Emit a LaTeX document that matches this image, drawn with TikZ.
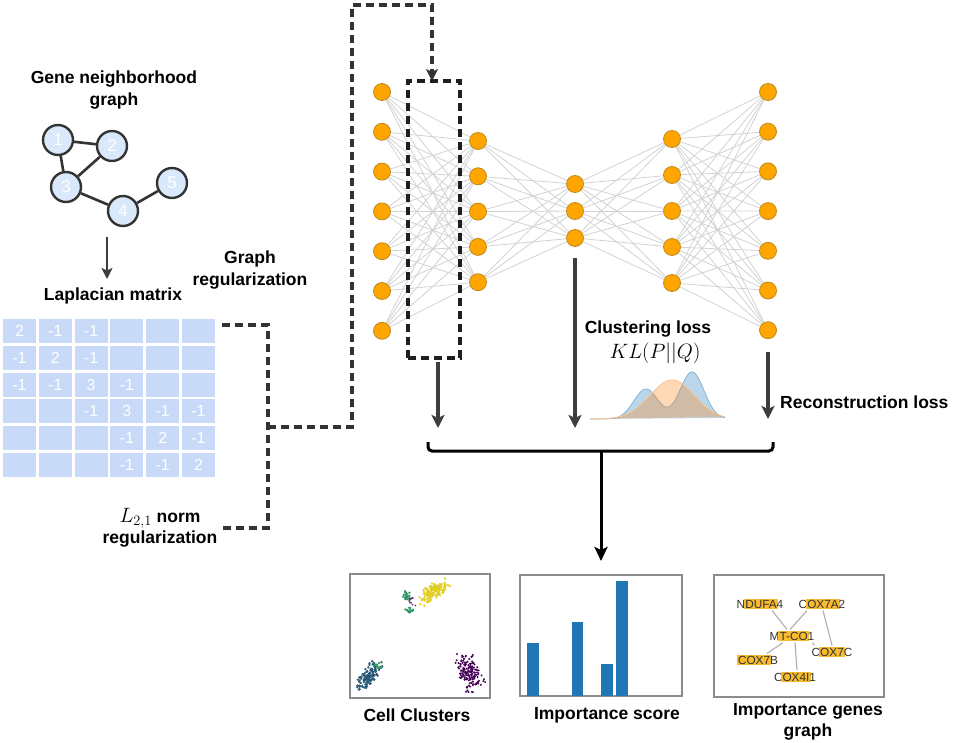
\documentclass[tikz,border=0pt]{standalone}
\usepackage{fontspec}
\newfontfamily\hv{Liberation Sans}
\usetikzlibrary{arrows.meta,calc,backgrounds}
\definecolor{cellblue}{HTML}{C9DAF8}
\definecolor{gnode}{HTML}{DAE8FC}
\definecolor{nnode}{HTML}{FFA500}
\definecolor{nnodeline}{HTML}{C08A1A}
\definecolor{edgegray}{HTML}{D2D2D2}
\definecolor{arrowgray}{HTML}{3E3E3E}
\definecolor{dashgray}{HTML}{333333}
\definecolor{mplblue}{HTML}{1F77B4}
\definecolor{mplorange}{HTML}{FF7F0E}
\definecolor{hlor}{HTML}{F8BA2E}
\definecolor{vpurple}{HTML}{440154}
\definecolor{vblue}{HTML}{31688E}
\definecolor{vgreen}{HTML}{35B779}
\definecolor{vyellow}{HTML}{FDE725}
\definecolor{boxgray}{HTML}{8C8C8C}
\newcommand\hlg[1]{{\setlength{\fboxsep}{1.2pt}\kern-1.2pt\colorbox{hlor}{\vphantom{A}#1}\kern-1.2pt}}
\tikzset{
  lbl/.style={font=\hv\bfseries\fontsize{17.5}{21.5}\selectfont, align=center, inner sep=0pt},
  mathlbl/.style={font=\fontsize{20.5}{22}\selectfont, inner sep=0pt},
  gn/.style={circle, draw=black!80, fill=gnode, line width=2.4pt, minimum size=30pt, inner sep=0pt, text=white, font=\hv\fontsize{17}{17}\selectfont},
  gedge/.style={draw=black!80, line width=2.6pt},
  cell/.style={fill=cellblue, minimum width=33pt, minimum height=24pt, inner sep=0pt, text=white, font=\hv\fontsize{16}{16}\selectfont},
  nn/.style={circle, fill=nnode, draw=nnodeline, line width=0.8pt, minimum size=17pt, inner sep=0pt},
  nedge/.style={draw=edgegray, line width=0.8pt},
  selbox/.style={draw=black!88, line width=3.2pt, dash pattern=on 8pt off 5pt, minimum width=52pt, minimum height=277pt, inner sep=0pt},
  dconn/.style={draw=dashgray, line width=3.2pt, dash pattern=on 8pt off 5pt},
  garrow/.style={draw=arrowgray, line width=3.2pt, -{Stealth[length=13pt,width=13pt,inset=3pt]}},
  barrow/.style={draw=black, line width=3pt, -{Stealth[length=14pt,width=13pt,inset=3pt]}},
  pbox/.style={draw=boxgray, line width=1.5pt, inner sep=0pt},
  gene/.style={font=\hv\fontsize{11.8}{12}\selectfont, text=black!80, inner sep=1pt},
  genedge/.style={draw=black!30, line width=1.2pt},
}
\begin{document}
\begin{tikzpicture}[x=1pt,y=-1pt]
\useasboundingbox (0,0) rectangle (968,743);

% ---------- gene neighborhood graph ----------
\node[lbl] (tgraph) at (114,90) {Gene neighborhood\\graph};
\node[gn] (v1) at (58,140) {1};
\node[gn] (v2) at (112,146) {2};
\node[gn] (v3) at (66,187) {3};
\node[gn] (v4) at (123,211) {4};
\node[gn] (v5) at (172,183) {5};
\begin{pgfonlayer}{background}
\draw[gedge] (v1) -- (v2);
\draw[gedge] (v1) -- (v3);
\draw[gedge] (v2) -- (v3);
\draw[gedge] (v3) -- (v4);
\draw[gedge] (v4) -- (v5);
\end{pgfonlayer}
\coordinate (ga0) at (107,237);
\coordinate (ga1) at (107,279);
\draw[draw=arrowgray, line width=2.6pt, -{Stealth[length=11pt,width=11pt,inset=2.5pt]}] (ga0) -- (ga1);

\node[lbl] (tlap) at (113,296) {Laplacian matrix};
\node[lbl] (treg) at (250,270) {Graph\\regularization};

% ---------- Laplacian matrix ----------
\foreach \c/\v in {1/2,2/-1,3/-1,4/{},5/{},6/{}}
  \node[cell] (m-1-\c) at ({19.5+35.8*(\c-1)},331) {\v};
\foreach \c/\v in {1/-1,2/2,3/-1,4/{},5/{},6/{}}
  \node[cell] (m-2-\c) at ({19.5+35.8*(\c-1)},357.8) {\v};
\foreach \c/\v in {1/-1,2/-1,3/3,4/-1,5/{},6/{}}
  \node[cell] (m-3-\c) at ({19.5+35.8*(\c-1)},384.6) {\v};
\foreach \c/\v in {1/{},2/{},3/-1,4/3,5/-1,6/-1}
  \node[cell] (m-4-\c) at ({19.5+35.8*(\c-1)},411.4) {\v};
\foreach \c/\v in {1/{},2/{},3/{},4/-1,5/2,6/-1}
  \node[cell] (m-5-\c) at ({19.5+35.8*(\c-1)},438.2) {\v};
\foreach \c/\v in {1/{},2/{},3/{},4/-1,5/-1,6/2}
  \node[cell] (m-6-\c) at ({19.5+35.8*(\c-1)},465) {\v};

\node[lbl] (tl21) at (160,528) {{\fontsize{22}{22}\selectfont$L_{2,1}$} norm\\regularization};

% ---------- network ----------
\foreach \i in {1,...,7} \node[nn] (a\i) at (382,{92+39.8*(\i-1)}) {};
\foreach \i in {1,...,5} \node[nn] (b\i) at (478,{141+35.3*(\i-1)}) {};
\foreach \i in {1,...,3} \node[nn] (c\i) at (575,{184+27*(\i-1)}) {};
\foreach \i in {1,...,5} \node[nn] (d\i) at (672,{139+36*(\i-1)}) {};
\foreach \i in {1,...,7} \node[nn] (e\i) at (768,{92+39.7*(\i-1)}) {};
\begin{pgfonlayer}{background}
\foreach \i in {1,...,7} \foreach \j in {1,...,5} \draw[nedge] (a\i) -- (b\j);
\foreach \i in {1,...,5} \foreach \j in {1,...,3} \draw[nedge] (b\i) -- (c\j);
\foreach \i in {1,...,3} \foreach \j in {1,...,5} \draw[nedge] (c\i) -- (d\j);
\foreach \i in {1,...,5} \foreach \j in {1,...,7} \draw[nedge] (d\i) -- (e\j);
\end{pgfonlayer}

\node[selbox] (sel) at (434,219.5) {};

% ---------- dashed regularization connector ----------
\coordinate (d0) at (222,325);
\coordinate (d1) at (268,325);
\coordinate (d2) at (268,528);
\coordinate (d3) at (222,528);
\coordinate (dm) at (268,427);
\coordinate (dk1) at (352,427);
\coordinate (dk2) at (352,5);
\coordinate (dk3) at (432,5);
\coordinate (dk4) at (432,81);
\draw[dconn] (d0) -- (d1) -- (d2) -- (d3);
\draw[dconn, -{Stealth[length=12pt,width=12pt,inset=3pt]}] (dm) -- (dk1) -- (dk2) -- (dk3) -- (dk4);

% ---------- losses ----------
\coordinate (l1a) at (438,362);
\coordinate (l1b) at (438,428);
\draw[garrow] (l1a) -- (l1b);
\coordinate (l2a) at (575,258);
\coordinate (l2b) at (575,428);
\draw[garrow] (l2a) -- (l2b);
\coordinate (l3a) at (768,352);
\coordinate (l3b) at (768,419);
\draw[garrow] (l3a) -- (l3b);

\node[lbl] (tclu) at (648,329) {Clustering loss};
\node[mathlbl] (tkl) at (655,353) {$KL(P||Q)$};
\node[lbl, anchor=west] (trec) at (780,402) {Reconstruction loss};

% distributions
\fill[mplblue, opacity=0.3] plot[domain=590:725, samples=120] (\x,{419-30*exp(-((\x-646)^2)/288)-47*exp(-((\x-692)^2)/288)}) -- cycle;
\draw[mplblue!55, line width=0.8pt] plot[domain=590:725, samples=120] (\x,{419-30*exp(-((\x-646)^2)/288)-47*exp(-((\x-692)^2)/288)});
\fill[mplorange, opacity=0.3] plot[domain=590:725, samples=120] (\x,{419-39*exp(-((\x-672)^2)/968)}) -- cycle;
\draw[mplorange!50, line width=0.8pt] plot[domain=590:725, samples=120] (\x,{419-39*exp(-((\x-672)^2)/968)});

% ---------- bracket ----------
\coordinate (brL) at (428,442);
\coordinate (brR) at (773,442);
\coordinate (brM) at (601,451);
\coordinate (brT) at (601,561);
\draw[black, line width=3pt, rounded corners=4pt] (brL) -- (428,451) -- (773,451) -- (brR);
\draw[barrow] (brM) -- (brT);

% ---------- bottom panels ----------
\node[pbox, minimum width=140pt, minimum height=124pt] (cc) at (420,636) {};
\node[pbox, minimum width=162pt, minimum height=121pt] (imp) at (601,635.5) {};
\node[pbox, minimum width=170pt, minimum height=122pt] (gg) at (799,636) {};

\node[lbl] (tcc) at (417,715) {Cell Clusters};
\node[lbl] (timp) at (607,715) {Importance score};
\node[lbl] (tgg) at (808,722) {Importance genes\\graph};

% scatter
\pgfmathsetseed{11}
\foreach \k in {1,...,150}{
  \pgfmathsetmacro\u{(rand+rand+rand)*7.5}
  \pgfmathsetmacro\v{(rand+rand)*4}
  \fill[vyellow, draw=vyellow!80!black, line width=0.15pt] ({434+0.83*\u+0.55*\v},{591-0.55*\u+0.83*\v}) circle (1.1pt);
}
\foreach \k in {1,...,22}{
  \pgfmathsetmacro\u{(rand+rand)*2.8}
  \pgfmathsetmacro\v{(rand+rand)*3}
  \fill[vgreen, draw=vgreen!70!black, line width=0.15pt] ({407+\u},{596+\v}) circle (1.1pt);
}
\foreach \k in {1,...,16}{
  \pgfmathsetmacro\u{(rand+rand)*2.6}
  \pgfmathsetmacro\v{(rand+rand)*2.2}
  \fill[vgreen, draw=vgreen!70!black, line width=0.15pt] ({410+\u},{610+\v}) circle (1.1pt);
}
\foreach \k in {1,...,10}{
  \pgfmathsetmacro\u{(rand)*3.5}
  \pgfmathsetmacro\v{(rand)*4}
  \fill[vpurple!80] ({412+\u},{602+\v}) circle (1pt);
}
\foreach \k in {1,...,170}{
  \pgfmathsetmacro\u{(rand+rand+rand)*8.5}
  \pgfmathsetmacro\v{(rand+rand)*6}
  \fill[vpurple] ({469+0.45*\u+0.89*\v},{672+0.89*\u-0.45*\v}) circle (1.1pt);
}
\foreach \k in {1,...,120}{
  \pgfmathsetmacro\u{(rand+rand+rand)*7.5}
  \pgfmathsetmacro\v{(rand+rand)*4}
  \fill[vblue, draw=vblue!70!black, line width=0.15pt] ({368+0.62*\u+0.79*\v},{677-0.79*\u+0.62*\v}) circle (1.1pt);
}
\foreach \k in {1,...,10}{
  \pgfmathsetmacro\u{(rand)*4}
  \pgfmathsetmacro\v{(rand)*3.5}
  \fill[vgreen, draw=vgreen!70!black, line width=0.15pt] ({378+\u},{666+\v}) circle (1.1pt);
}

% bars
\fill[mplblue] (527,696) rectangle (539,643);
\fill[mplblue] (572,696) rectangle (583,622);
\fill[mplblue] (601,696) rectangle (613,664);
\fill[mplblue] (616,696) rectangle (628,581);

% gene graph
\node[gene] (g1) at (760,604) {N\hlg{DUFA}4};
\node[gene] (g2) at (822,604) {C\hlg{OX7A}2};
\node[gene] (g3) at (792,636) {M\hlg{T-CO}1};
\node[gene] (g4) at (832,652) {C\hlg{OX7}C};
\node[gene] (g5) at (758,660) {\hlg{COX7}B};
\node[gene] (g6) at (795,677) {C\hlg{OX4I}1};
\begin{pgfonlayer}{background}
\draw[genedge] ($(g1.south)+(12,0)$) -- ($(g3.north)+(-5,0)$);
\draw[genedge] ($(g2.south)+(-15,0)$) -- ($(g3.north)+(-2,0)$);
\draw[genedge] ($(g2.south)+(1,0)$) -- (g4.north);
\draw[genedge] ($(g3.south east)+(-3,0)$) -- ($(g4.north west)+(4,0)$);
\draw[genedge] ($(g3.south)+(-9,0)$) -- ($(g5.north)+(9,0)$);
\draw[genedge] ($(g3.south)+(3,0)$) -- ($(g6.north)+(2,0)$);
\end{pgfonlayer}
\end{tikzpicture}
\end{document}
